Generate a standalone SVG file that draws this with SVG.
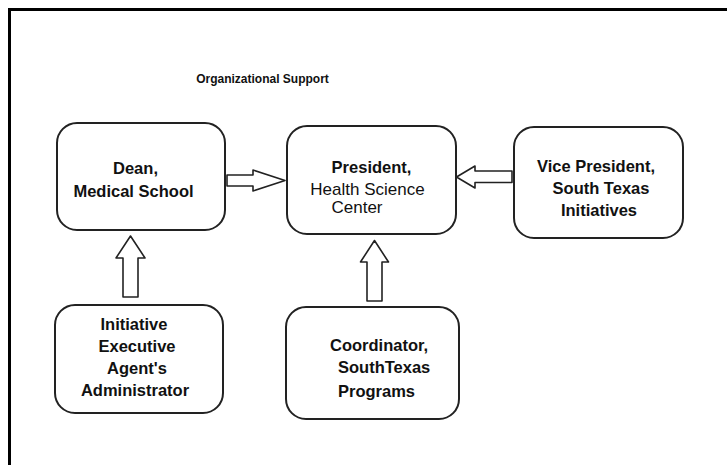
<svg xmlns="http://www.w3.org/2000/svg" width="727" height="465" viewBox="0 0 727 465">
<style>
.box{fill:#fff;stroke:#222;stroke-width:2}
.arr{fill:#fff;stroke:#222;stroke-width:1.6;stroke-linejoin:round}
.b{font-family:"Liberation Sans",Arial,sans-serif;font-weight:bold;font-size:16.5px;fill:#111;text-anchor:middle}
.r{font-family:"Liberation Sans",Arial,sans-serif;font-size:17px;fill:#111;text-anchor:middle}
.s{text-anchor:start}
</style>
<rect width="727" height="465" fill="#fff"/>
<path d="M9.5,465 L9.5,9.5 L727,9.5" fill="none" stroke="#000" stroke-width="3"/>
<text x="262.5" y="83" class="b" style="font-size:12px">Organizational Support</text>
<g id="connectors">
<path class="arr" d="M227,175 L253,175 L253,170 L285,180.5 L253,191 L253,186 L227,186 Z"/>
<path class="arr" d="M512,171 L475,171 L475,166 L456.5,177 L475,188 L475,182.5 L512,182.5 Z"/>
<path class="arr" d="M123,297 L123,258 L116,258 L130.5,236 L145,258 L138,258 L138,297 Z"/>
<path class="arr" d="M367,301 L367,262 L360.5,262 L374.5,240.5 L388.5,262 L382,262 L382,301 Z"/>
</g>
<g id="dean">
<rect class="box" x="57" y="123" width="168" height="107" rx="20"/>
<text class="b" x="135.5" y="174">Dean,</text>
<text class="b" x="133.5" y="197">Medical School</text>
</g>
<g id="president">
<rect class="box" x="287" y="126" width="169" height="108" rx="20"/>
<text class="b" x="371.5" y="173">President,</text>
<text class="r" x="367.5" y="195">Health Science</text>
<text class="r" x="357" y="213">Center</text>
</g>
<g id="vicepresident">
<rect class="box" x="514" y="127" width="169" height="111" rx="20"/>
<text class="b" x="596" y="172">Vice President,</text>
<text class="b" x="601" y="194">South Texas</text>
<text class="b" x="599" y="216">Initiatives</text>
</g>
<g id="initiative">
<rect class="box" x="55" y="305" width="168" height="108" rx="20"/>
<text class="b" x="134" y="330">Initiative</text>
<text class="b" x="137" y="352">Executive</text>
<text class="b" x="137" y="374">Agent's</text>
<text class="b" x="135" y="396">Administrator</text>
</g>
<g id="coordinator">
<rect class="box" x="286" y="307" width="173" height="112" rx="20"/>
<text class="b s" x="330" y="351">Coordinator,</text>
<text class="b s" x="338" y="373">SouthTexas</text>
<text class="b s" x="338" y="397">Programs</text>
</g>
</svg>
